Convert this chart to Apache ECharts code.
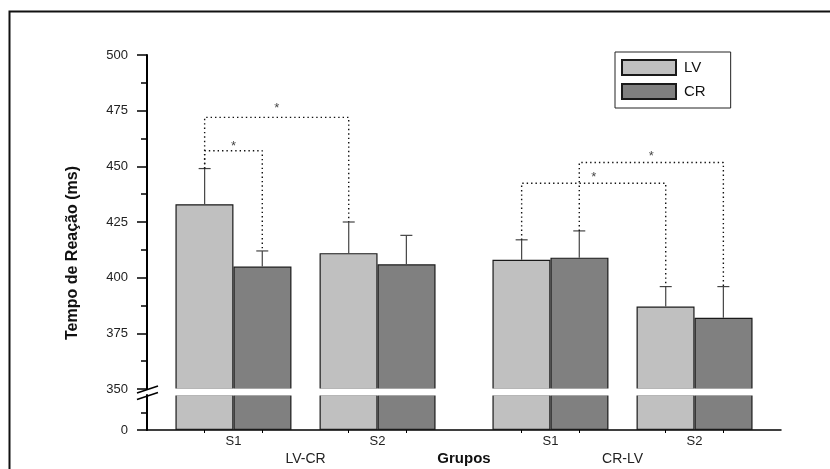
<!DOCTYPE html>
<html>
<head>
<meta charset="utf-8">
<script src="https://cdn.jsdelivr.net/npm/echarts@6/dist/echarts.min.js"></script>
<style>
  html, body { margin: 0; padding: 0; background: #fff; }
  #chart { width: 830px; height: 469px; }
</style>
</head>
<body>
<div id="chart"></div>
<script>
// ---------------- data ----------------
const seriesNames   = ['LV', 'CR'];
const sessionLabels = ['S1', 'S2', 'S1', 'S2'];
const groupLabels   = ['LV-CR', 'CR-LV'];
const lvMeans  = [433, 411, 408, 387];
const crMeans  = [405, 406, 409, 382];
const lvErrTop = [449, 425, 417, 396];
const crErrTop = [412, 419, 421, 396];
// significance comparisons: [sessionIndex, seriesIndex(0=LV,1=CR)] pairs
const comparisons = [
  [[0, 0], [0, 1]],
  [[0, 0], [1, 0]],
  [[2, 0], [3, 0]],
  [[2, 1], [3, 1]]
];
const bracketLevels = [457, 472, 442.4, 451.7];
const starLevels    = [458.8, 476.1, 445.1, 454.3];
const starText = '*';
const yAxisTitle = 'Tempo de Reação (ms)';
const xAxisTitle = 'Grupos';

// ---------------- layout ----------------
const SLOTS = 23;                 // fine slots along x (0..22)
const sessionSlot = [3, 8, 14, 19];
const groupBand = [5, 16];        // band index (22 bands) for group labels
const FONT = '"Liberation Sans", Arial, sans-serif';

const means = [lvMeans, crMeans];
const errTop = [lvErrTop, crErrTop];
const barSlot = (sess, ser) => sessionSlot[sess] + (ser === 0 ? -1 : 1);

const slotCats = Array.from({length: SLOTS}, (_, i) => {
  const k = sessionSlot.indexOf(i);
  return k >= 0 ? sessionLabels[k] : '';
});
const slotKeys = slotCats.map((c, i) => 'k' + i);
const bandKeys = Array.from({length: SLOTS - 1}, (_, i) => 'b' + i);
const bandLabel = {};
groupBand.forEach((b, i) => bandLabel['b' + b] = groupLabels[i]);
const slotLabel = {};
slotKeys.forEach((k, i) => slotLabel[k] = slotCats[i]);

function barData(arr) {
  const d = Array(SLOTS).fill(null);
  sessionSlot.forEach((s, i) => d[s] = arr[i]);
  return d;
}
const barTicks = [];
sessionSlot.forEach((s) => { barTicks.push(s - 1, s + 1); });

const errData = [];
for (let ser = 0; ser < 2; ser++) {
  for (let i = 0; i < sessionSlot.length; i++) {
    errData.push([barSlot(i, ser), means[ser][i], errTop[ser][i]]);
  }
}

const colors = ['#c0c0c0', '#808080'];
const barStyle = (c) => ({ color: c, borderColor: '#1a1a1a', borderWidth: 1.2 });

const series = [];
seriesNames.forEach((n, ser) => {
  series.push({
    name: n, type: 'bar', xAxisIndex: 0, yAxisIndex: 0,
    data: barData(means[ser]), barWidth: 58, barGap: '0%',
    itemStyle: barStyle(colors[ser]), clip: true, z: 2
  });
});
seriesNames.forEach((n, ser) => {
  series.push({
    name: n, type: 'bar', xAxisIndex: 2, yAxisIndex: 1,
    data: barData(means[ser]), barWidth: 58, barGap: '0%',
    itemStyle: barStyle(colors[ser]), clip: true, z: 2
  });
});
series.push({
  type: 'custom', xAxisIndex: 1, yAxisIndex: 0, z: 5,
  data: errData,
  encode: { x: 0, y: [1, 2] },
  renderItem: function (params, api) {
    const x = api.value(0);
    const p0 = api.coord([x, api.value(1)]);
    const p1 = api.coord([x, api.value(2)]);
    const st = { stroke: '#444', lineWidth: 1.2 };
    return {
      type: 'group',
      children: [
        { type: 'line', shape: { x1: p0[0], y1: p0[1], x2: p1[0], y2: p1[1] }, style: st },
        { type: 'line', shape: { x1: p1[0] - 6, y1: p1[1], x2: p1[0] + 6, y2: p1[1] }, style: st }
      ]
    };
  }
});
const starData = [];
comparisons.forEach((c, k) => {
  const [a, b] = c;
  const xa = barSlot(a[0], a[1]), xb = barSlot(b[0], b[1]);
  const ea = errTop[a[1]][a[0]], eb = errTop[b[1]][b[0]];
  const lvl = bracketLevels[k];
  series.push({
    type: 'line', xAxisIndex: 1, yAxisIndex: 0, z: 6,
    data: [[xa, ea], [xa, lvl], [xb, lvl], [xb, eb]],
    symbol: 'none', silent: true,
    lineStyle: { color: '#111', width: 1.4, type: [1.4, 3] }
  });
  starData.push([(xa + xb) / 2, starLevels[k]]);
});
series.push({
  type: 'scatter', xAxisIndex: 1, yAxisIndex: 0, z: 7,
  data: starData, symbol: 'circle', symbolSize: 2,
  itemStyle: { color: 'rgba(0,0,0,0)' },
  label: {
    show: true, position: 'inside', formatter: starText,
    fontSize: 13, fontFamily: FONT, color: '#111', offset: [0, 3]
  },
  labelLayout: { hideOverlap: false }
});

const axisLineStyle = { color: '#000', width: 2 };

const option = {
  animation: false,
  backgroundColor: '#fff',
  textStyle: { fontFamily: FONT },
  grid: [
    { left: 147, right: 49, top: 55, height: 334, outerBoundsMode: 'none' },
    { left: 147, right: 49, top: 395, height: 35, outerBoundsMode: 'none' }
  ],
  legend: {
    data: seriesNames, orient: 'vertical', left: 615, top: 52,
    itemWidth: 54, itemHeight: 15, itemGap: 7,
    padding: [7, 25, 8, 6],
    borderColor: '#222', borderWidth: 1,
    icon: 'rect',
    textStyle: { fontSize: 15, color: '#111', fontFamily: FONT, padding: [0, 0, 0, 3] }
  },
  xAxis: [
    { type: 'category', gridIndex: 0, data: slotKeys, boundaryGap: false, show: false },
    { type: 'value', gridIndex: 0, min: 0, max: SLOTS - 1, show: false },
    {
      type: 'category', gridIndex: 1, data: slotKeys, boundaryGap: false, position: 'bottom',
      axisLine: { show: true, lineStyle: { color: '#000', width: 1.5 } },
      axisTick: { show: true, length: 3, interval: (i) => barTicks.includes(i), lineStyle: { color: '#000' } },
      axisLabel: { interval: 0, margin: 5, fontSize: 13, color: '#222', formatter: (v) => slotLabel[v] }
    },
    {
      type: 'category', gridIndex: 1, data: bandKeys, boundaryGap: true, position: 'bottom',
      axisLine: { show: false }, axisTick: { show: false },
      axisLabel: { interval: 0, margin: 22, fontSize: 14, color: '#222', formatter: (v) => bandLabel[v] || '' },
      name: xAxisTitle, nameLocation: 'middle', nameGap: 21, nameMoveOverlap: false,
      nameTextStyle: { fontSize: 15, fontWeight: 'bold', color: '#111', fontFamily: FONT }
    }
  ],
  yAxis: [
    {
      type: 'value', gridIndex: 0, min: 350, max: 500, interval: 25,
      axisLine: { show: true, lineStyle: axisLineStyle },
      axisTick: { show: true, length: 10, lineStyle: { color: '#000', width: 1.5 } },
      minorTick: { show: true, splitNumber: 2, length: 6, lineStyle: { color: '#000', width: 1.5 } },
      splitLine: { show: false },
      axisLabel: { margin: 19, fontSize: 13, color: '#222' }
    },
    {
      type: 'value', gridIndex: 1, min: 0, max: 15.7, interval: 15.7,
      axisLine: { show: true, lineStyle: axisLineStyle },
      axisTick: { show: true, length: 10, customValues: [0], lineStyle: { color: '#000', width: 1.5 } },
      minorTick: { show: true, splitNumber: 2, length: 6, lineStyle: { color: '#000', width: 1.5 } },
      splitLine: { show: false },
      axisLabel: { margin: 19, fontSize: 13, color: '#222', customValues: [0] }
    }
  ],
  graphic: [
    { type: 'rect', z: 100, silent: true,
      shape: { x: 9.5, y: 11.5, width: 840, height: 480 },
      style: { fill: 'none', stroke: '#111', lineWidth: 2 } },
    { type: 'rect', z: 100, silent: true,
      shape: { x: 148.5, y: 388.4, width: 634, height: 7.2 },
      style: { fill: '#fff' } },
    { type: 'line', z: 101, silent: true,
      shape: { x1: 137, y1: 393, x2: 158, y2: 386 }, style: { stroke: '#000', lineWidth: 1.5 } },
    { type: 'line', z: 101, silent: true,
      shape: { x1: 137, y1: 399.5, x2: 158, y2: 392.5 }, style: { stroke: '#000', lineWidth: 1.5 } },
    { type: 'text', z: 101, silent: true, x: 73, y: 253, rotation: Math.PI / 2,
      style: { text: yAxisTitle, font: 'bold 16px ' + FONT, fill: '#111',
               align: 'center', verticalAlign: 'middle', textAlign: 'center', textVerticalAlign: 'middle' } }
  ],
  series: series
};

const chart = echarts.init(document.getElementById('chart'), null, { renderer: 'canvas' });
chart.setOption(option);
</script>
</body>
</html>
